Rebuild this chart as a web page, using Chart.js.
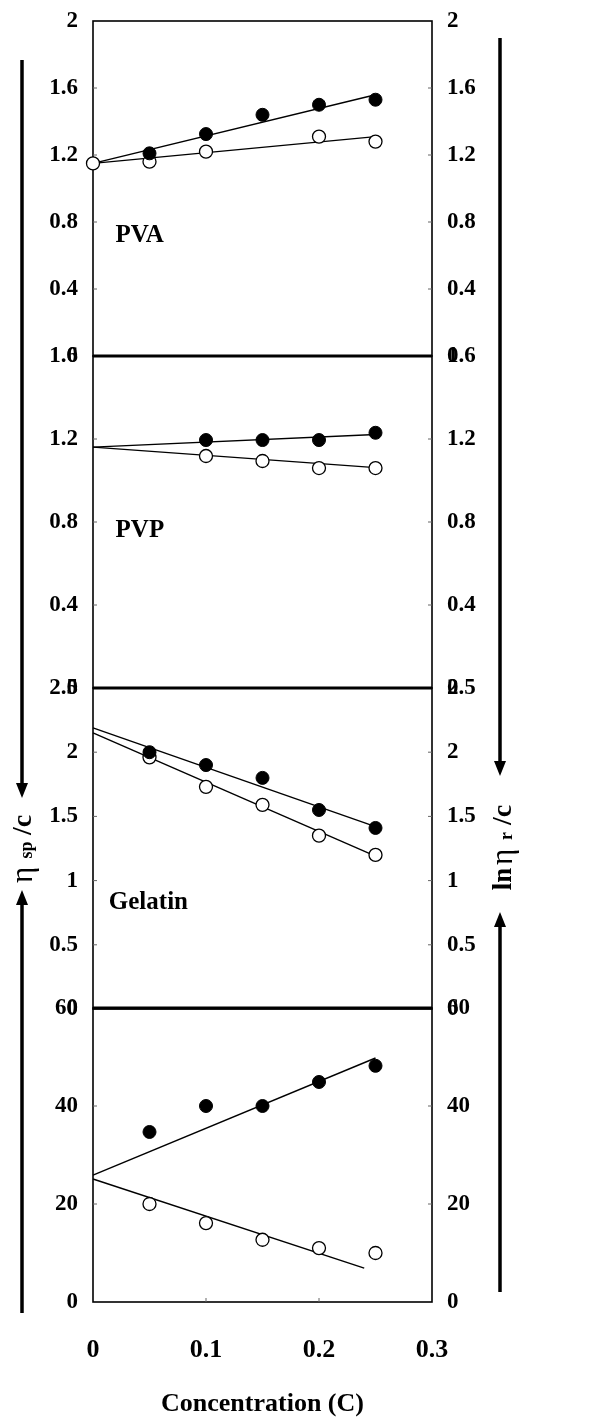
<!DOCTYPE html>
<html><head><meta charset="utf-8">
<script src="https://cdn.jsdelivr.net/npm/chart.js@4.4.1/dist/chart.umd.min.js"></script>
<style>
html,body{margin:0;padding:0;background:#fff;}
#wrap{position:relative;width:613px;height:1422px;overflow:hidden;background:#fff;}
canvas{position:absolute;left:0;top:0;}
#c1{top:-10px;}
</style></head><body><div id="wrap">
<canvas id="c1" width="613" height="1422"></canvas>
<canvas id="c2" width="613" height="1422"></canvas>
<canvas id="c3" width="613" height="1422"></canvas>
<canvas id="c4" width="613" height="1422"></canvas>
</div>
<script>
// ---------- data ----------
const concentration = [0, 0.05, 0.1, 0.15, 0.2, 0.25];
const xTickValues = [0, 0.1, 0.2, 0.3];
const xTitle = 'Concentration (C)';

const pvaName = 'PVA';
const pvaFilled = [null, 1.21, 1.325, 1.44, 1.50, 1.53];
const pvaOpen = [1.15, 1.16, 1.22, null, 1.31, 1.28];
const pvaFitX = [0, 0.25];
const pvaFitFilled = [1.15, 1.56];
const pvaFitOpen = [1.15, 1.31];
const pvaTicks = [0, 0.4, 0.8, 1.2, 1.6, 2];

const pvpName = 'PVP';
const pvpFilled = [null, null, 1.195, 1.195, 1.195, 1.23];
const pvpOpen = [null, null, 1.118, 1.094, 1.06, 1.06];
const pvpFitX = [0, 0.25];
const pvpFitFilled = [1.161, 1.222];
const pvpFitOpen = [1.161, 1.062];
const pvpTicks = [0, 0.4, 0.8, 1.2, 1.6];

const gelName = 'Gelatin';
const gelFilled = [null, 2.0, 1.90, 1.80, 1.55, 1.41];
const gelOpen = [null, 1.96, 1.73, 1.59, 1.35, 1.20];
const gelFitX = [0, 0.25];
const gelFitFilled = [2.19, 1.42];
const gelFitOpen = [2.15, 1.19];
const gelTicks = [0, 0.5, 1, 1.5, 2, 2.5];

const p4Name = '';
const p4Filled = [null, 34.7, 40, 40, 44.9, 48.2];
const p4Open = [null, 20, 16.1, 12.7, 11, 10];
const p4FitFilledX = [0, 0.25];
const p4FitFilled = [25.9, 49.8];
const p4FitOpenX = [0, 0.24];
const p4FitOpen = [25.1, 6.9];
const p4Ticks = [0, 20, 40, 60];

// ---------- rendering ----------
const SERIF = '"Liberation Serif", "Times New Roman", serif';
const W = 613, H = 1422;
const PLOT_LEFT = 93, PLOT_RIGHT = 432;

function pts(xs, ys) {
  return xs.map((x, i) => ({x: x, y: ys[i]})).filter(p => p.y !== null && p.y !== undefined);
}

const framePlugin = {
  id: 'frame',
  beforeDatasetsDraw(chart) {
    const a = chart.chartArea, ctx = chart.ctx;
    const opt = chart.options.plugins.frame;
    ctx.save();
    ctx.strokeStyle = '#000';
    ctx.lineWidth = 1.6;
    ctx.strokeRect(a.left, a.top, a.right - a.left, a.bottom - a.top);
    if (opt.thickTop) {
      ctx.lineWidth = 3;
      ctx.beginPath();
      ctx.moveTo(a.left, a.top); ctx.lineTo(a.right, a.top);
      ctx.stroke();
    }
    // small inner tick marks
    ctx.lineWidth = 1;
    ctx.strokeStyle = '#666';
    const y = chart.scales.y;
    y.ticks.forEach((t, i) => {
      if (i === 0 || i === y.ticks.length - 1) return;
      const py = y.getPixelForTick(i);
      ctx.beginPath();
      ctx.moveTo(a.left, py); ctx.lineTo(a.left + 4, py);
      ctx.moveTo(a.right, py); ctx.lineTo(a.right - 4, py);
      ctx.stroke();
    });
    if (chart.options.scales.x.display) {
      const x = chart.scales.x;
      x.ticks.forEach((t, i) => {
        if (i === 0 || i === x.ticks.length - 1) return;
        const px = x.getPixelForTick(i);
        ctx.beginPath();
        ctx.moveTo(px, a.bottom); ctx.lineTo(px, a.bottom - 4);
        ctx.stroke();
      });
    }
    // panel name
    if (opt.text) {
      ctx.fillStyle = '#000';
      ctx.font = 'bold 25px ' + SERIF;
      ctx.textAlign = 'left';
      ctx.textBaseline = 'middle';
      ctx.fillText(opt.text, chart.scales.x.getPixelForValue(opt.x), y.getPixelForValue(opt.y));
    }
    ctx.restore();
  }
};

function arrow(ctx, x, yTip, yEnd) {
  const dir = yEnd > yTip ? 1 : -1; // tail direction
  ctx.beginPath();
  ctx.moveTo(x, yEnd);
  ctx.lineTo(x, yTip + dir * 12);
  ctx.stroke();
  ctx.beginPath();
  ctx.moveTo(x, yTip);
  ctx.lineTo(x - 6, yTip + dir * 15);
  ctx.lineTo(x + 6, yTip + dir * 15);
  ctx.closePath();
  ctx.fill();
}

function rotText(ctx, pieces, cx) {
  pieces.forEach(p => {
    ctx.save();
    ctx.translate(cx + (p[3] || 0), p[2]);
    ctx.rotate(-Math.PI / 2);
    ctx.font = p[1];
    ctx.textAlign = 'center';
    ctx.textBaseline = 'middle';
    ctx.fillText(p[0], 0, 0);
    ctx.restore();
  });
}

const sidePlugin = {
  id: 'side',
  afterDraw(chart) {
    const ctx = chart.ctx;
    ctx.save();
    ctx.strokeStyle = '#000';
    ctx.fillStyle = '#000';
    ctx.lineWidth = 3.5;
    arrow(ctx, 22, 798, 60);
    arrow(ctx, 22, 890, 1313);
    arrow(ctx, 500, 776, 38);
    arrow(ctx, 500, 912, 1292);
    rotText(ctx, [
      ['\u03B7', '31px ' + SERIF, 875, 0],
      ['sp', 'bold 18px ' + SERIF, 850, 3],
      ['/c', 'bold 28px ' + SERIF, 825, 0]
    ], 24);
    rotText(ctx, [
      ['ln', 'bold 27px ' + SERIF, 879, 0],
      ['\u03B7', '31px ' + SERIF, 857, 0],
      ['r', 'bold 18px ' + SERIF, 836, 3],
      ['/c', 'bold 28px ' + SERIF, 815, 0]
    ], 504);
    ctx.restore();
  }
};

function makePanel(id, cfg) {
  const showX = !!cfg.showX;
  const off = cfg.offset || 0;
  const tickFont = {family: SERIF, size: 23, weight: 'bold'};
  const yCommon = (pos, width) => ({
    type: 'linear',
    position: pos,
    min: cfg.ticks[0],
    max: cfg.ticks[cfg.ticks.length - 1],
    grid: {display: false, drawTicks: false, tickLength: 0},
    border: {display: false},
    ticks: {color: '#000', font: tickFont, padding: 15, autoSkip: false,
            callback: v => String(v)},
    afterBuildTicks: s => { s.ticks = cfg.ticks.map(v => ({value: v})); },
    afterFit: s => { s.width = width; }
  });
  const datasets = [
    {label: 'filled', data: pts(concentration, cfg.filled), showLine: false,
     pointRadius: 6.5, pointBackgroundColor: '#000', pointBorderColor: '#000', pointBorderWidth: 1, clip: false},
    {label: 'open', data: pts(concentration, cfg.open), showLine: false,
     pointRadius: 6.5, pointBackgroundColor: '#fff', pointBorderColor: '#000', pointBorderWidth: 1.3, clip: false},
    {label: 'fitFilled', data: pts(cfg.fitFX, cfg.fitF), showLine: true, pointRadius: 0,
     borderColor: '#000', borderWidth: 1.4, clip: false},
    {label: 'fitOpen', data: pts(cfg.fitOX, cfg.fitO), showLine: true, pointRadius: 0,
     borderColor: '#000', borderWidth: 1.4, clip: false}
  ];
  const plugins = [framePlugin];
  if (cfg.side) plugins.push(sidePlugin);
  return new Chart(document.getElementById(id), {
    type: 'scatter',
    data: {datasets: datasets},
    plugins: plugins,
    options: {
      responsive: false,
      animation: false,
      devicePixelRatio: 1,
      events: [],
      layout: {padding: {top: cfg.top + off, bottom: showX ? 0 : H - cfg.bottom - off, left: 0, right: 0}},
      plugins: {legend: {display: false}, tooltip: {enabled: false},
                frame: {text: cfg.name, x: cfg.nameX, y: cfg.nameY, thickTop: !!cfg.thickTop}},
      scales: {
        x: {
          type: 'linear', display: showX, min: 0, max: 0.3,
          grid: {display: false, drawTicks: false, tickLength: 0}, border: {display: false},
          ticks: {color: '#000', font: {family: SERIF, size: 26, weight: 'bold'}, padding: 33,
                  autoSkip: false, maxRotation: 0, callback: v => String(v)},
          afterBuildTicks: s => { s.ticks = xTickValues.map(v => ({value: v})); },
          title: {display: showX, text: xTitle, color: '#000',
                  font: {family: SERIF, size: 26, weight: 'bold'}, padding: {top: 0, bottom: 2}},
          afterFit: s => { if (showX) s.height = H - cfg.bottom; }
        },
        y: yCommon('left', PLOT_LEFT),
        y2: yCommon('right', W - PLOT_RIGHT)
      }
    }
  });
}

makePanel('c1', {top: 21, bottom: 356, offset: 10, ticks: pvaTicks, filled: pvaFilled, open: pvaOpen,
  fitFX: pvaFitX, fitF: pvaFitFilled, fitOX: pvaFitX, fitO: pvaFitOpen,
  name: pvaName, nameX: 0.02, nameY: 0.72});
makePanel('c2', {top: 356, bottom: 688, ticks: pvpTicks, filled: pvpFilled, open: pvpOpen,
  fitFX: pvpFitX, fitF: pvpFitFilled, fitOX: pvpFitX, fitO: pvpFitOpen,
  name: pvpName, nameX: 0.02, nameY: 0.76, thickTop: true});
makePanel('c3', {top: 688, bottom: 1009, ticks: gelTicks, filled: gelFilled, open: gelOpen,
  fitFX: gelFitX, fitF: gelFitFilled, fitOX: gelFitX, fitO: gelFitOpen,
  name: gelName, nameX: 0.014, nameY: 0.83, thickTop: true});
makePanel('c4', {top: 1008, bottom: 1302, ticks: p4Ticks, filled: p4Filled, open: p4Open,
  fitFX: p4FitFilledX, fitF: p4FitFilled, fitOX: p4FitOpenX, fitO: p4FitOpen,
  name: p4Name, nameX: 0.02, nameY: 0, showX: true, thickTop: true, side: true});
</script>
</body></html>
